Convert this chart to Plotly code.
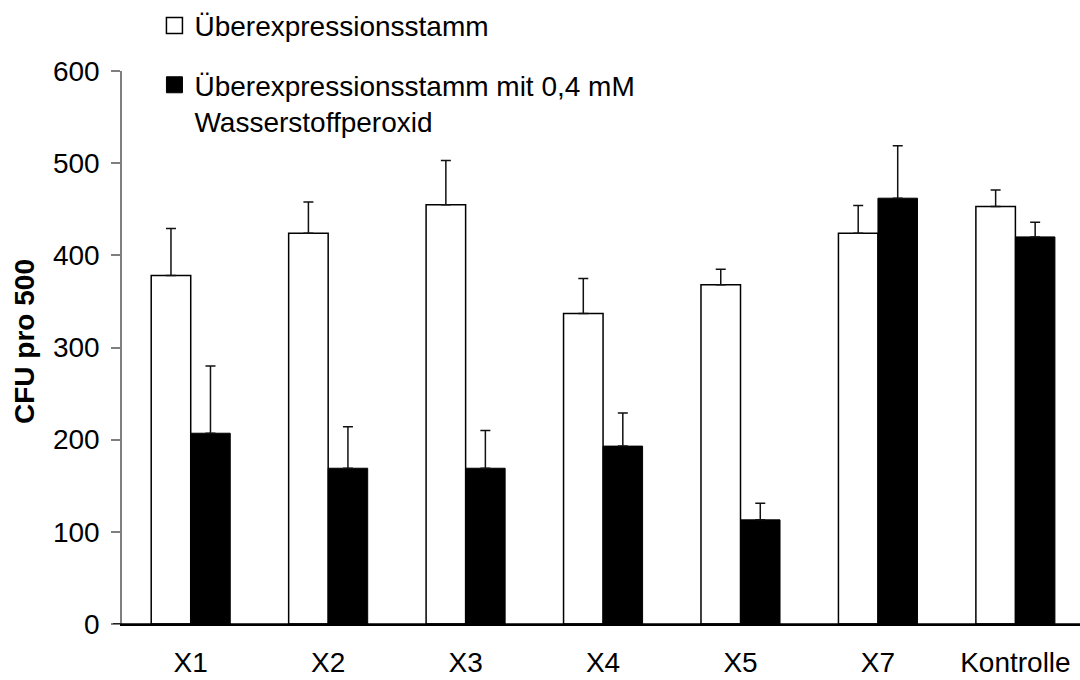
import plotly.graph_objects as go

categories = ["X1", "X2", "X3", "X4", "X5", "X7", "Kontrolle"]
strain = [378, 424, 455, 337, 368, 424, 453]
strain_err = [51, 34, 48, 38, 17, 30, 18]
peroxide = [207, 169, 169, 193, 113, 462, 420]
peroxide_err = [73, 45, 41, 36, 18, 57, 16]

name_strain = "Überexpressionsstamm"
name_perox = "Überexpressionsstamm mit 0,4 mM<br>Wasserstoffperoxid"
y_ticks = [0, 100, 200, 300, 400, 500, 600]
y_title = "CFU pro 500"

FONT = "Liberation Sans, Arial, sans-serif"
FS = 28

fig = go.Figure()
fig.add_trace(go.Bar(
    x=categories, y=strain, name=name_strain, showlegend=False,
    marker=dict(color="white", line=dict(color="black", width=1.5)),
    error_y=dict(type="data", array=strain_err, symmetric=False,
                 arrayminus=[0] * len(strain_err), color="#111111",
                 thickness=1.5, width=5),
))
fig.add_trace(go.Bar(
    x=categories, y=peroxide, name=name_perox, showlegend=False,
    marker=dict(color="black", line=dict(color="black", width=1)),
    error_y=dict(type="data", array=peroxide_err, symmetric=False,
                 arrayminus=[0] * len(peroxide_err), color="#111111",
                 thickness=1.5, width=5),
))
# legend entries
fig.add_trace(go.Scatter(
    x=[None], y=[None], mode="markers", name=name_strain, legendgroup="a",
    marker=dict(symbol="square", size=16, color="white",
                line=dict(color="black", width=1.5)),
))
fig.add_trace(go.Scatter(
    x=[None], y=[None], mode="markers", name=name_perox, legendgroup="b",
    marker=dict(symbol="square", size=16, color="black",
                line=dict(color="black", width=1)),
))

fig.update_layout(
    width=1080, height=680,
    margin=dict(l=122, r=0, t=71, b=56, autoexpand=False),
    paper_bgcolor="white", plot_bgcolor="white",
    font=dict(family=FONT, size=FS, color="black"),
    barmode="group", bargap=0.425, bargroupgap=0,
    showlegend=True,
    legend=dict(
        xref="container", yref="container", x=0.143, y=0.999,
        xanchor="left", yanchor="top",
        traceorder="grouped", tracegroupgap=20, valign="top",
        font=dict(family=FONT, size=FS, color="black"),
        bgcolor="rgba(0,0,0,0)", itemwidth=30,
    ),
    xaxis=dict(
        type="category", range=[-0.5, 6.47], automargin=False,
        showline=True, linecolor="black", linewidth=1.5,
        ticks="outside", ticklen=13, tickcolor="rgba(0,0,0,0)",
        tickangle=0,
        showgrid=False, zeroline=False,
        tickfont=dict(family=FONT, size=FS, color="black"),
    ),
    yaxis=dict(
        range=[0, 600], tickvals=y_ticks, automargin=False,
        showline=True, linecolor="#7f7f7f", linewidth=1.5,
        ticks="outside", ticklen=9, tickcolor="#7f7f7f", tickwidth=1.5,
        ticklabelstandoff=6,
        showgrid=False, zeroline=False,
        tickfont=dict(family=FONT, size=FS, color="black"),
    ),
    annotations=[dict(
        text="<b>" + y_title + "</b>", xref="paper", yref="paper",
        x=-97 / 958, y=0.51, xanchor="center", yanchor="middle",
        textangle=-90, showarrow=False,
        font=dict(family=FONT, size=FS, color="black"),
    )],
    shapes=[dict(type="line", xref="paper", yref="y", x0=-9 / 958, x1=1,
                 y0=0, y1=0, line=dict(color="black", width=1.5),
                 layer="above")],
)

fig.write_html("out.html")
